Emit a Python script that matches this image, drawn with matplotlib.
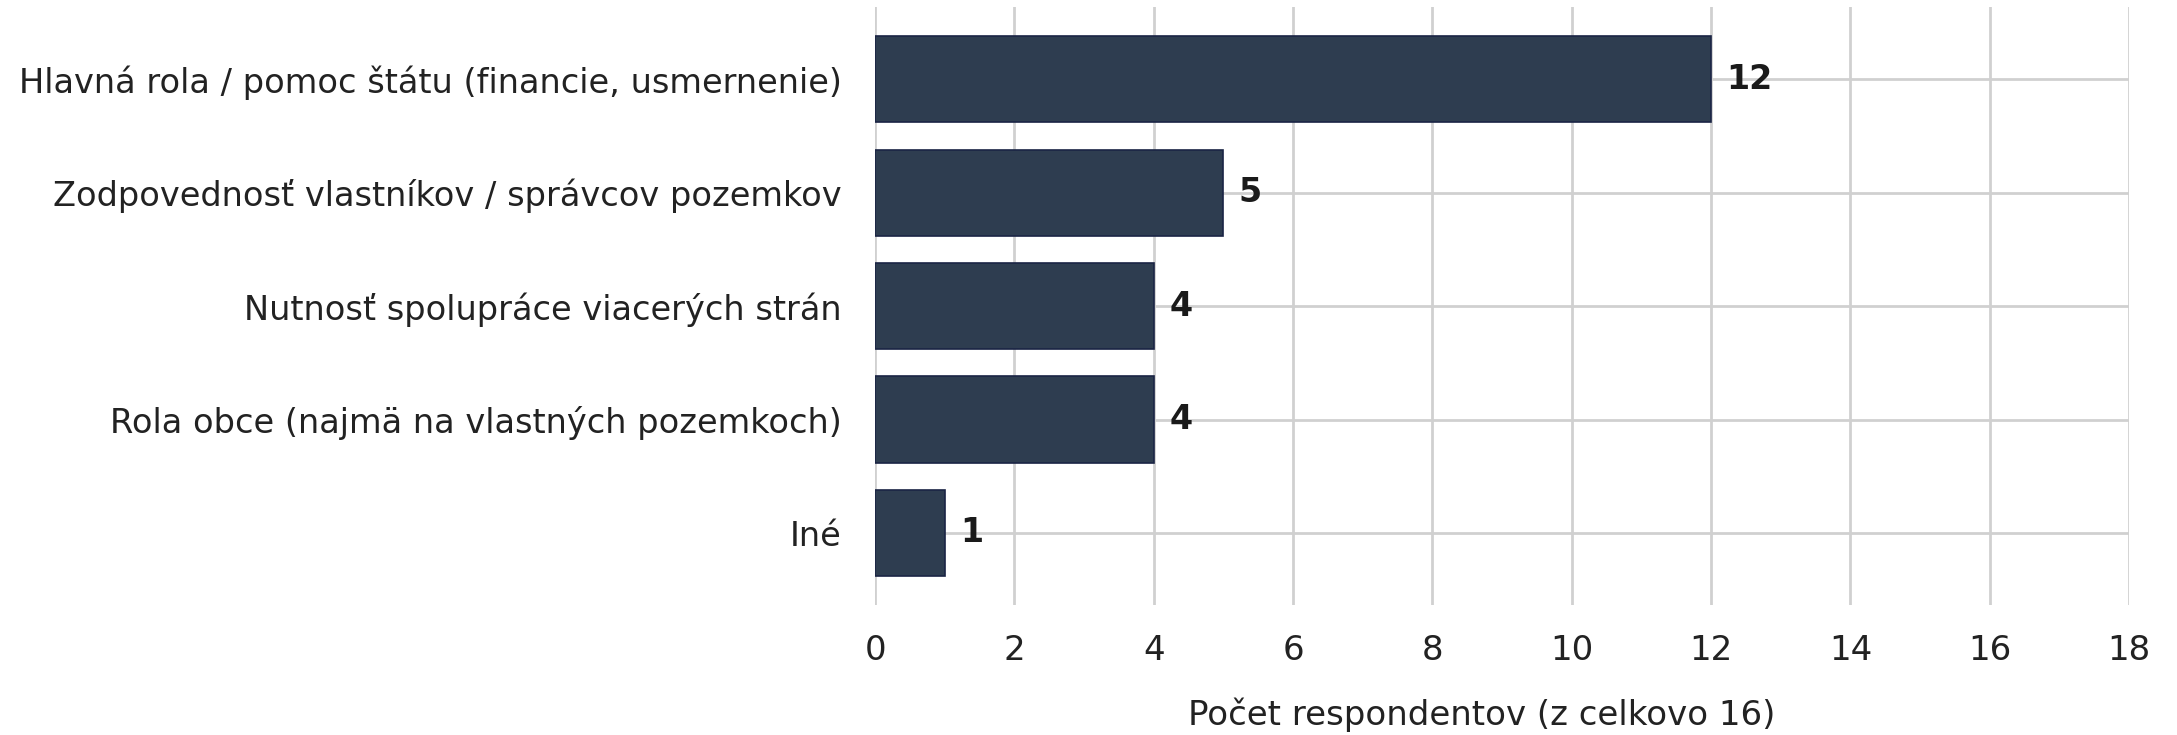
import matplotlib.pyplot as plt
import numpy as np

# = = = = = data = = = = =
categories = ['Hlavná rola / pomoc štátu (financie, usmernenie)',
              'Zodpovednosť vlastníkov / správcov pozemkov',
              'Nutnosť spolupráce viacerých strán',
              'Rola obce (najmä na vlastných pozemkoch)',
              'Iné']
counts = [12, 5, 4, 4, 1]
xticks = [0, 2, 4, 6, 8, 10, 12, 14, 16, 18]
xlabel = 'Počet respondentov (z celkovo 16)'

# = = = = = plot = = = = =
plt.rcParams['font.family'] = ['DejaVu Sans']
fig = plt.figure(figsize=(21.77, 7.35), dpi=100)
ax = fig.add_axes([0.402, 0.177, 0.576, 0.813])

y = np.arange(len(categories))
ax.barh(y, counts, height=0.76, color='#2e3d50', edgecolor='#1a2444',
        linewidth=1.2, zorder=3)

for yi, v in zip(y, counts):
    ax.text(v + 0.22, yi, str(v), va='center', ha='left',
            fontsize=24, fontweight='bold', color='#1a1a1a', zorder=4)

ax.set_yticks(y)
ax.set_yticklabels(categories)
ax.set_xticks(xticks)
ax.set_xlim(0, 18)
ax.set_ylim(4.634, -0.634)

ax.grid(True, color='#d0d0d0', linewidth=2, zorder=0)
ax.set_axisbelow(True)
for s in ax.spines.values():
    s.set_visible(False)
ax.tick_params(axis='both', length=0, colors='#222222')
ax.tick_params(axis='y', pad=24, labelsize=24.2)
ax.tick_params(axis='x', pad=21, labelsize=24.5)

ax.set_xlabel(xlabel, fontsize=24.5, color='#222222')
ax.xaxis.set_label_coords(0.484, -0.155)

fig.savefig('out.png', dpi=100, facecolor='white')
